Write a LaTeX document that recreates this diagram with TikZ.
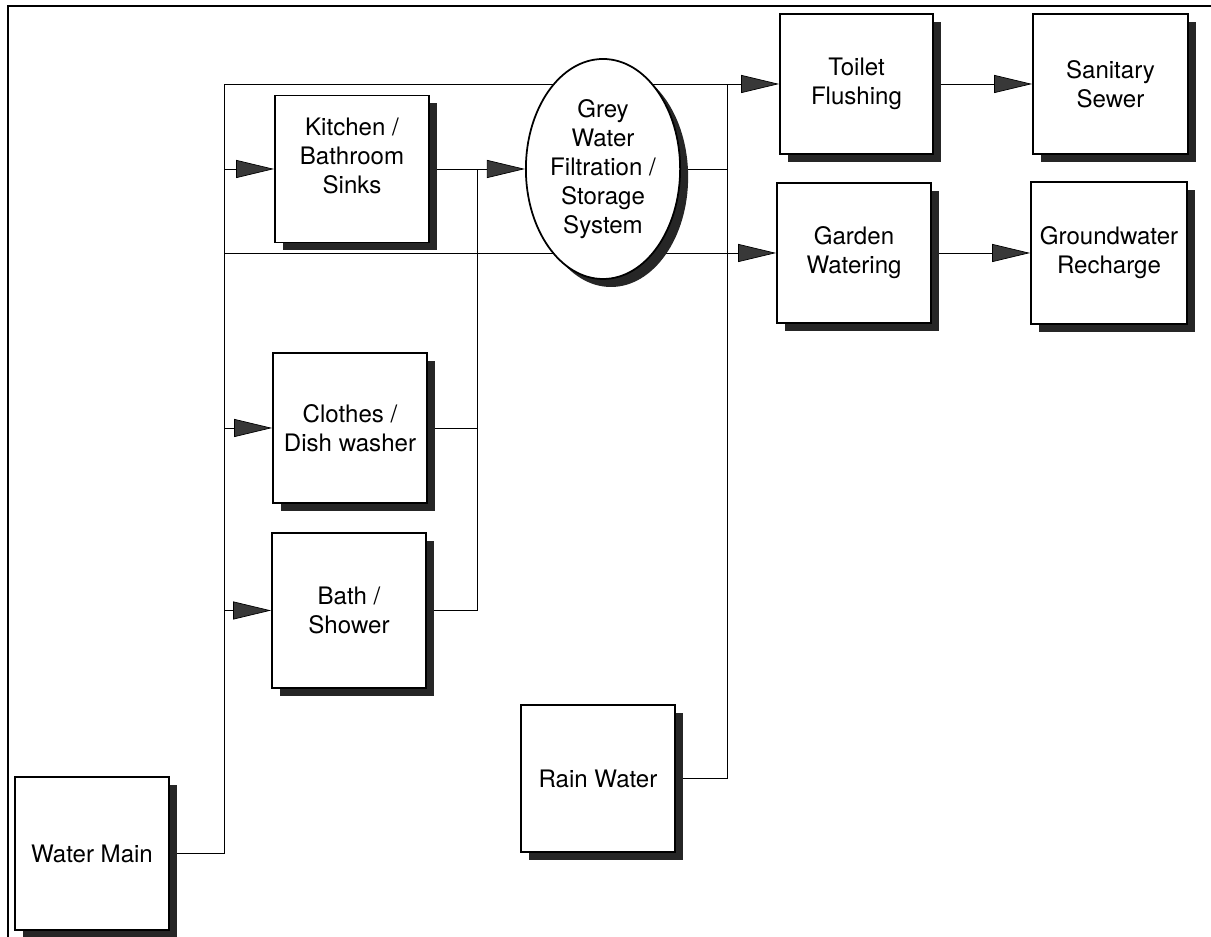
\documentclass[tikz,border=0pt]{standalone}
\usepackage{fontspec}
\setmainfont{TeX Gyre Heros}
\usetikzlibrary{arrows.meta, shapes.geometric, shadows, backgrounds}

\begin{document}
\begin{tikzpicture}[>={Triangle[length=7.6mm, width=3.6mm, fill=black!78]}, line width=0.8pt,
  font=\fontsize{13.7}{16.5}\selectfont,
  unit/.style={draw, line width=1pt, fill=white, align=center, minimum width=3.08cm, minimum height=2.9cm,
    inner sep=1pt, drop shadow={shadow xshift=1.6mm, shadow yshift=-1.6mm, fill=black!85, opacity=1}},
  tank/.style={unit, ellipse, minimum width=3.08cm, minimum height=4.4cm}]
  \useasboundingbox (0,0) rectangle (24.22,18.74);
  % marco
  \draw[line width=1.1pt] (0.16,0) -- (0.16,18.62) -- (24.22,18.62);
  % fuentes y usos
  \node[unit, minimum height=3.06cm] (main) at (1.84,1.67) {Water Main};
  \node[unit, minimum height=2.94cm, text depth=5.2mm] (kitchen) at (7.04,15.36) {Kitchen /\\Bathroom\\Sinks};
  \node[unit, minimum height=3.0cm] (clothes) at (7.0,10.18) {Clothes /\\Dish washer};
  \node[unit, minimum height=3.1cm] (bath) at (6.98,6.53) {Bath /\\Shower};
  \node[tank] (grey) at (12.06,15.36) {Grey\\Water\\Filtration /\\Storage\\System};
  \node[unit, minimum height=2.94cm] (rain) at (11.96,3.17) {Rain Water};
  \node[unit, minimum width=3.06cm, minimum height=2.8cm] (toilet) at (17.13,17.06) {Toilet\\Flushing};
  \node[unit, minimum width=3.1cm, minimum height=2.8cm] (sewer) at (22.21,17.06) {Sanitary\\Sewer};
  \node[unit, minimum height=2.8cm] (garden) at (17.08,13.68) {Garden\\Watering};
  \node[unit, minimum width=3.12cm, minimum height=2.84cm] (recharge) at (22.18,13.68) {Groundwater\\Recharge};
  % ejes de las tuberias
  \coordinate (bw) at (4.48,0);
  \coordinate (bm) at (9.54,0);
  \coordinate (be) at (14.54,0);
  \begin{scope}[on background layer]
    % agua de red
    \draw[->] (main.east) -| (bw |- toilet.west) -- (toilet.west);
    \draw[->] (bw |- garden.west) -- (garden.west);
    \draw[->] (bw |- kitchen.west) -- (kitchen.west);
    \draw[->] (bw |- clothes.west) -- (clothes.west);
    \draw[->] (bw |- bath.west) -- (bath.west);
    % aguas grises
    \draw[->] (kitchen.east) -- (bm |- kitchen.east) -- (grey.west);
    \draw (clothes.east) -- (bm |- clothes.east);
    \draw (bath.east) -| (bm |- kitchen.east);
    % salida del tanque y agua de lluvia
    \draw (grey.east) -- (be |- grey.east);
    \draw (rain.east) -| (be |- toilet.west);
    % descargas
    \draw[->] (toilet.east) -- (sewer.west);
    \draw[->] (garden.east) -- (recharge.west);
  \end{scope}
\end{tikzpicture}
\end{document}
